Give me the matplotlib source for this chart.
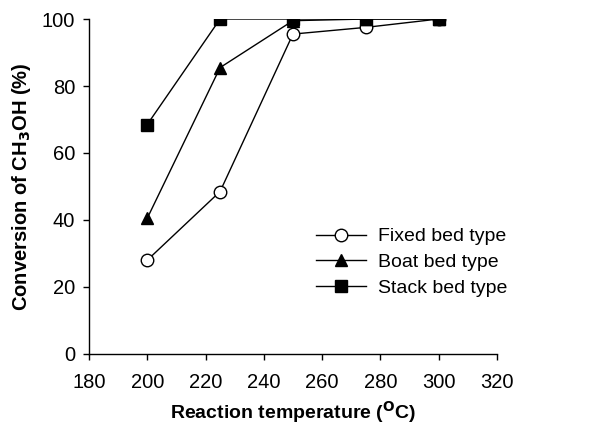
import matplotlib
matplotlib.use("Agg")
import matplotlib.pyplot as plt

plt.rcParams['font.family'] = ['Liberation Sans', 'DejaVu Sans']
plt.rcParams['mathtext.default'] = 'regular'

temps = [200, 225, 250, 275, 300]
fixed = [28, 48.5, 95.5, 97.5, 100]
boat = [40.5, 85.5, 99.5, 100, 100]
stack = [68.5, 100, 100, 100, 100]

fig = plt.figure(figsize=(5.93, 4.37), dpi=100)
ax = fig.add_axes([0.150, 0.190, 0.688, 0.7665])

ax.plot(temps, fixed, color='black', lw=1.0, marker='o', ms=9,
        mfc='white', mec='black', mew=1.0, label='Fixed bed type', zorder=3)
ax.plot(temps, boat, color='black', lw=1.0, marker='^', ms=9,
        mfc='black', mec='black', label='Boat bed type', zorder=3)
ax.plot(temps, stack, color='black', lw=1.0, marker='s', ms=8,
        mfc='black', mec='black', label='Stack bed type', zorder=4)

ax.set_xlim(180, 320)
ax.set_ylim(0, 100)
ax.set_xticks(range(180, 321, 20))
ax.set_yticks(range(0, 101, 20))
for s in ['top', 'right']:
    ax.spines[s].set_visible(False)
ax.spines['left'].set_linewidth(1.0)
ax.spines['bottom'].set_linewidth(1.0)
ax.tick_params(direction='out', length=4, width=1.0, labelsize=14.5)
ax.tick_params(axis='x', pad=10)
ax.tick_params(axis='y', pad=6)
ax.set_xlabel('Reaction temperature ($^{\\mathbf{O}}$C)', fontsize=14,
              fontweight='bold', labelpad=5)
ax.set_ylabel('Conversion of CH$_\\mathbf{3}$OH (%)', fontsize=14.5,
              fontweight='bold', labelpad=6)

ax.legend(loc='upper left', bbox_to_anchor=(0.537, 0.40), frameon=False,
          fontsize=14, handlelength=2.6, handletextpad=0.6,
          labelspacing=0.41, borderaxespad=0)

fig.savefig('out.png', dpi=100)
